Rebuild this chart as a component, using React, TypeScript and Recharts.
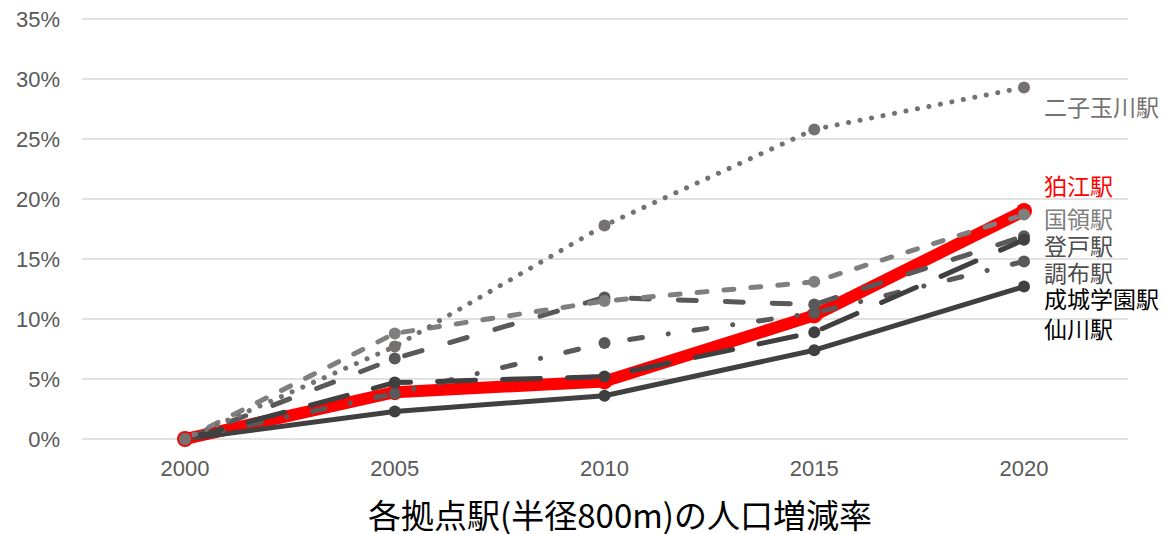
import { LineChart, Line, XAxis, YAxis, CartesianGrid, LabelList } from "recharts";

const years = ["2000", "2005", "2010", "2015", "2020"];
const yTicks = [0, 5, 10, 15, 20, 25, 30, 35];

// 人口増減率 (%), 2000年比
const futakoTamagawa = [0, 7.7, 17.8, 25.8, 29.3];
const komae = [0, 3.9, 4.8, 10.3, 19.0];
const kokuryo = [0, 8.8, 11.5, 13.1, 18.7];
const noborito = [0, 6.7, 11.8, 11.2, 16.9];
const chofu = [0, 3.8, 8.0, 10.5, 14.8];
const seijogakuen = [0, 2.3, 3.6, 7.4, 12.7];
const sengawa = [0, 4.7, 5.2, 8.9, 16.6];

const data = years.map((year, i) => ({
  year,
  futakoTamagawa: futakoTamagawa[i],
  komae: komae[i],
  kokuryo: kokuryo[i],
  noborito: noborito[i],
  chofu: chofu[i],
  seijogakuen: seijogakuen[i],
  sengawa: sengawa[i],
}));

const JP = '"Noto Sans CJK JP", "Noto Sans", sans-serif';

const endLabel = (name: string, color: string, dy: number) => (props: any) => {
  if (props.index !== years.length - 1) return null;
  return (
    <text
      x={Number(props.x) + 20}
      y={Number(props.y) + dy}
      fill={color}
      fontSize={23}
      fontFamily={JP}
      dominantBaseline="central"
    >
      {name}
    </text>
  );
};

export default function App() {
  return (
    <div style={{ position: "absolute", left: 0, top: 0, width: 1164, height: 534, background: "#fff" }}>
      <LineChart
        width={1164}
        height={534}
        data={data}
        margin={{ top: 19, right: 36, bottom: 55, left: 0 }}
      >
        <CartesianGrid vertical={false} stroke="#d9d9d9" strokeWidth={1.5} />
        <XAxis
          dataKey="year"
          padding={{ left: 103, right: 104 }}
          axisLine={false}
          tickLine={false}
          height={40}
          tickMargin={15}
          tick={{ fill: "#595959", fontSize: 22, fontFamily: "Liberation Sans, Arial, sans-serif" }}
        />
        <YAxis
          width={82}
          domain={[0, 35]}
          ticks={yTicks}
          tickFormatter={(v) => `${v}%`}
          axisLine={false}
          tickLine={false}
          tickMargin={16}
          tick={{ fill: "#595959", fontSize: 22, fontFamily: "Liberation Sans, Arial, sans-serif" }}
        />
        <Line
          dataKey="komae"
          stroke="#ff0000"
          strokeWidth={12}
          strokeLinejoin="round"
          dot={{ r: 8, fill: "#ff0000", stroke: "none" }}
          isAnimationActive={false}
        >
          <LabelList dataKey="komae" content={endLabel("狛江駅", "#ff0000", -26)} />
        </Line>
        <Line
          dataKey="seijogakuen"
          stroke="#404040"
          strokeWidth={5}
          strokeLinejoin="round"
          dot={{ r: 6, fill: "#404040", stroke: "none" }}
          isAnimationActive={false}
        >
          <LabelList dataKey="seijogakuen" content={endLabel("成城学園駅", "#000000", 11)} />
        </Line>
        <Line
          dataKey="chofu"
          stroke="#595959"
          strokeWidth={5}
          strokeLinecap="round"
          strokeDasharray="13 26 0.1 26"
          dot={{ r: 6, fill: "#595959", stroke: "none" }}
          isAnimationActive={false}
        >
          <LabelList dataKey="chofu" content={endLabel("調布駅", "#4d4d4d", 11)} />
        </Line>
        <Line
          dataKey="noborito"
          stroke="#595959"
          strokeWidth={5}
          strokeLinecap="round"
          strokeDasharray="18 29"
          dot={{ r: 6, fill: "#595959", stroke: "none" }}
          isAnimationActive={false}
        >
          <LabelList dataKey="noborito" content={endLabel("登戸駅", "#4d4d4d", 9)} />
        </Line>
        <Line
          dataKey="sengawa"
          stroke="#404040"
          strokeWidth={5}
          strokeLinecap="round"
          strokeDasharray="38 27"
          dot={{ r: 6, fill: "#404040", stroke: "none" }}
          isAnimationActive={false}
        >
          <LabelList dataKey="sengawa" content={endLabel("仙川駅", "#000000", 88)} />
        </Line>
        <Line
          dataKey="kokuryo"
          stroke="#7f7f7f"
          strokeWidth={5}
          strokeLinecap="round"
          strokeDasharray="10 17"
          dot={{ r: 6, fill: "#7f7f7f", stroke: "none" }}
          isAnimationActive={false}
        >
          <LabelList dataKey="kokuryo" content={endLabel("国領駅", "#7f7f7f", 3)} />
        </Line>
        <Line
          dataKey="futakoTamagawa"
          stroke="#767171"
          strokeWidth={5}
          strokeLinecap="round"
          strokeDasharray="0.1 11.6"
          dot={{ r: 6, fill: "#767171", stroke: "none" }}
          isAnimationActive={false}
        >
          <LabelList dataKey="futakoTamagawa" content={endLabel("二子玉川駅", "#767171", 19)} />
        </Line>
      </LineChart>
      <div
        style={{
          position: "absolute",
          left: 620,
          top: 498,
          transform: "translateX(-50%)",
          whiteSpace: "nowrap",
          fontFamily: JP,
          fontSize: 33,
          lineHeight: "33px",
          color: "#000",
        }}
      >
        各拠点駅(半径800m)の人口増減率
      </div>
    </div>
  );
}
